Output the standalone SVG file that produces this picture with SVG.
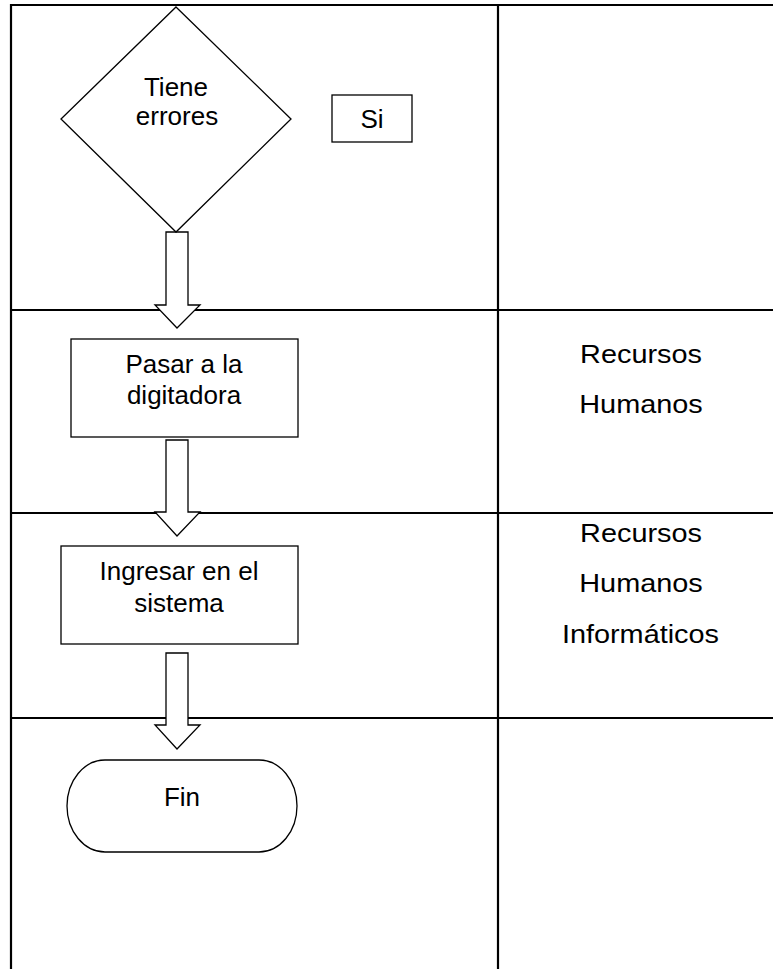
<svg xmlns="http://www.w3.org/2000/svg" width="773" height="969" viewBox="0 0 773 969">
<style>
.grid{stroke:#000;stroke-width:2.2;fill:none}
.shape{fill:#fff;stroke:#000;stroke-width:1.3}
.t{font-family:"Liberation Sans",Arial,sans-serif;font-size:26px;fill:#000;text-anchor:middle}
</style>
<rect width="773" height="969" fill="#fff"/>
<g id="table" class="grid">
<line x1="10" y1="5" x2="773" y2="5"/>
<line x1="11" y1="4" x2="11" y2="969"/>
<line x1="498" y1="4" x2="498" y2="969"/>
<line x1="11" y1="310" x2="773" y2="310"/>
<line x1="11" y1="513" x2="773" y2="513"/>
<line x1="11" y1="718" x2="773" y2="718"/>
</g>
<g id="connectors" class="shape">
<polygon points="166,232 188,232 188,305 200,305 177,328 155,305 166,305"/>
<polygon points="166,440 188,440 188,512 200,512 177,536 155,512 166,512"/>
<polygon points="166,653 188,653 188,725 200,725 177,749 155,725 166,725"/>
</g>
<g id="decision">
<polygon class="shape" points="176,7 291,119 176,232 61,119"/>
<text class="t" x="176" y="96">Tiene</text>
<text class="t" x="177" y="125">errores</text>
</g>
<g id="si">
<rect class="shape" x="332" y="95" width="80" height="47"/>
<text class="t" x="372" y="128">Si</text>
</g>
<g id="pasar">
<rect class="shape" x="71" y="339" width="227" height="98"/>
<text class="t" x="184" y="373">Pasar a la</text>
<text class="t" x="184" y="404">digitadora</text>
</g>
<g id="ingresar">
<rect class="shape" x="61" y="546" width="237" height="98"/>
<text class="t" x="179" y="580">Ingresar en el</text>
<text class="t" x="179" y="612">sistema</text>
</g>
<g id="fin">
<rect class="shape" x="67" y="760" width="230" height="92" rx="38" ry="46"/>
<text class="t" x="182" y="806">Fin</text>
</g>
<g id="res1" transform="translate(641,0) scale(1.11,1)">
<text class="t" x="0" y="363">Recursos</text>
<text class="t" x="0" y="413">Humanos</text>
</g>
<g id="res2" transform="translate(641,0) scale(1.11,1)">
<text class="t" x="0" y="542">Recursos</text>
<text class="t" x="0" y="592">Humanos</text>
<text class="t" x="-0.5" y="643">Informáticos</text>
</g>
</svg>
